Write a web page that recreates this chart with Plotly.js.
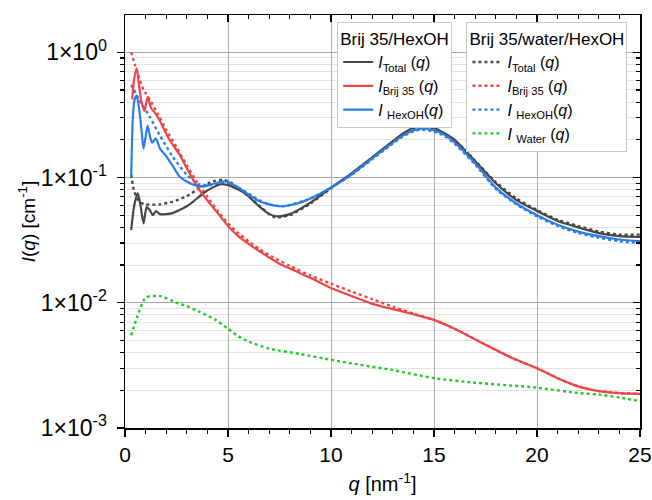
<!DOCTYPE html>
<html>
<head>
<meta charset="utf-8">
<script src="https://cdn.plot.ly/plotly-3.0.1.min.js"></script>
<style>html,body{margin:0;padding:0;background:#fff;}#chart{width:652px;height:500px;}</style>
</head>
<body>
<div id="chart"></div>
<script>
// ---- Brij 35/HexOH (solid) ----
const qTotalA = [0.3,0.45,0.62,0.75,0.9,1.05,1.2,1.35,1.5,1.7,2.0,2.3,2.65,3.0,3.3,3.9,4.6,5.0,5.5,5.9,6.5,7.0,7.4,8.0,9.0,10,11,12,13,13.5,14,14.4,15,16,17,18,19,20,21,22,23,24,25];
const iTotalA = [0.038,0.06,0.075,0.06,0.043,0.058,0.055,0.05,0.054,0.051,0.051,0.052,0.055,0.059,0.064,0.077,0.088,0.087,0.08,0.073,0.059,0.051,0.049,0.051,0.063,0.083,0.108,0.145,0.195,0.225,0.25,0.258,0.25,0.2,0.135,0.09,0.066,0.054,0.045,0.04,0.036,0.034,0.0335];

const qBrijA = [0.35,0.45,0.57,0.68,0.8,0.95,1.1,1.27,1.45,1.67,2.16,2.65,3.13,3.6,4.1,4.5,5,5.5,6,6.5,7,7.5,8,8.5,9,10,11,12,13,14,15,16,17,18,19,20,21,22,23,24,25];
const iBrijA = [0.42,0.62,0.745,0.55,0.4,0.34,0.44,0.357,0.33,0.288,0.2,0.152,0.108,0.08,0.0625,0.052,0.041,0.034,0.0295,0.026,0.023,0.0205,0.0188,0.0172,0.0158,0.0131,0.0113,0.0098,0.0089,0.0081,0.0073,0.0062,0.0051,0.0042,0.0035,0.003,0.0025,0.00215,0.00197,0.0019,0.00187];

const qHexA = [0.3,0.38,0.47,0.57,0.68,0.8,0.9,1.0,1.1,1.22,1.32,1.5,1.7,2.0,2.3,2.65,3.0,3.3,3.8,4.4,4.9,5.5,6.0,6.5,7.0,7.5,8.0,8.5,9,10,11,12,13,13.5,14,14.4,15,15.5,16,17,18,19,20,21,22,23,24,25];
const iHexA = [0.1,0.3,0.42,0.45,0.36,0.24,0.17,0.21,0.26,0.21,0.19,0.205,0.17,0.148,0.125,0.102,0.093,0.088,0.085,0.09,0.093,0.083,0.073,0.065,0.061,0.059,0.06,0.063,0.068,0.083,0.106,0.142,0.19,0.217,0.238,0.246,0.238,0.22,0.19,0.13,0.083,0.062,0.05,0.042,0.037,0.034,0.032,0.031];

// ---- Brij 35/water/HexOH (dotted) ----
const qTotalB = [0.3,0.45,0.7,1.0,1.7,2.3,3.0,3.6,4.26,4.75,5.2,6.0,6.5,7.0,7.3,8.0,9.0,10,11,12,13,13.5,14,14.4,15,16,17,18,19,20,21,22,23,24,25];
const iTotalB = [0.105,0.077,0.064,0.061,0.061,0.064,0.071,0.082,0.093,0.096,0.09,0.071,0.06,0.051,0.048,0.05,0.062,0.082,0.107,0.144,0.193,0.222,0.245,0.252,0.245,0.198,0.136,0.092,0.068,0.055,0.046,0.041,0.037,0.035,0.035];

const qBrijB = [0.3,0.5,0.7,0.9,1.2,1.6,2.0,2.5,3.0,3.5,4.0,4.5,5.0,5.5,6,6.5,7,8,9,10,11,12,13,14,15,16,17,18,19,20,21,22,23,24,25];
const iBrijB = [1.0,0.78,0.62,0.5,0.42,0.32,0.24,0.175,0.125,0.092,0.07,0.054,0.043,0.036,0.031,0.027,0.024,0.0197,0.0165,0.0142,0.0123,0.0107,0.0093,0.0082,0.0073,0.0062,0.0051,0.0042,0.0035,0.003,0.0025,0.00215,0.00197,0.0019,0.00187];

const qHexB = [0.3,0.7,1.2,1.67,2.3,3.0,3.6,4.2,4.75,5.4,6.5,7.0,7.7,9,10,11,12,13,13.5,14,14.4,15,15.5,16,17,18,19,20,21,22,23,24,25];
const iHexB = [0.55,0.415,0.306,0.22,0.148,0.105,0.088,0.087,0.09,0.085,0.066,0.061,0.059,0.068,0.083,0.105,0.14,0.187,0.213,0.234,0.241,0.233,0.215,0.186,0.127,0.081,0.061,0.049,0.041,0.036,0.033,0.031,0.030];

const qWaterB = [0.3,0.6,1.0,1.7,2.5,3.0,3.6,4.4,5.0,5.5,6.0,7.0,8.5,10,11.4,13,15,17,20,22,23,24,25];
const iWaterB = [0.0055,0.0078,0.011,0.0113,0.01,0.0094,0.0085,0.0073,0.0062,0.0054,0.0049,0.0043,0.0039,0.0035,0.0032,0.0029,0.0025,0.0023,0.0021,0.0019,0.00185,0.00175,0.00164];

// ---- axis ticks / labels ----
const yTickVals = [0.001, 0.01, 0.1, 1];
const yTickText = ['1×10<sup>-3</sup>', '1×10<sup>-2</sup>', '1×10<sup>-1</sup>', '1×10<sup>0</sup>'];
const xTickVals = [0, 5, 10, 15, 20, 25];
const legendTitleA = 'Brij 35/HexOH';
const legendTitleB = 'Brij 35/water/HexOH';
const nameTotal = '<i>I</i><sub>Total</sub> (<i>q</i>)';
const nameBrij = '<i>I</i><sub>Brij 35</sub> (<i>q</i>)';
const nameHex = '<i>I</i> <sub>HexOH</sub>(<i>q</i>)';
const nameWater = '<i>I</i> <sub>Water</sub> (<i>q</i>)';

const cGray = '#474747', cRed = '#f04545', cBlue = '#2a7de6', cGreen = '#22cc22';

// minor log tick positions (axis decoration)
const yMinor = [];
for (let e = -3; e <= 0; e++) for (let m = 2; m <= 9; m++) yMinor.push(m * Math.pow(10, e));

function tr(x, y, name, color, dash, legend) {
  return {x: x, y: y, name: name, type: 'scatter', mode: 'lines', legend: legend,
    line: {color: color, width: dash === 'solid' ? 2.2 : 2.4, dash: dash, shape: 'spline', smoothing: 0.6}};
}
const data = [
  tr(qTotalB, iTotalB, nameTotal, cGray, 'dot', 'legend2'),
  tr(qBrijB, iBrijB, nameBrij, cRed, 'dot', 'legend2'),
  tr(qHexB, iHexB, nameHex, cBlue, 'dot', 'legend2'),
  tr(qWaterB, iWaterB, nameWater, cGreen, 'dot', 'legend2'),
  tr(qTotalA, iTotalA, nameTotal, cGray, 'solid', 'legend'),
  tr(qBrijA, iBrijA, nameBrij, cRed, 'solid', 'legend'),
  tr(qHexA, iHexA, nameHex, cBlue, 'solid', 'legend'),
  {x: [], y: [], xaxis: 'x2', yaxis: 'y2', showlegend: false, type: 'scatter', mode: 'lines'}
];
const font = 'Liberation Sans, Arial, sans-serif';
const yRange = [-3, 0.2975];
const layout = {
  width: 652, height: 500,
  margin: {l: 125, r: 12, t: 15, b: 72},
  paper_bgcolor: '#fff', plot_bgcolor: '#fff',
  font: {family: font, size: 17, color: '#000'},
  showlegend: true,
  xaxis: {
    range: [0, 25], tickvals: xTickVals, ticks: 'outside', ticklen: 7, tickwidth: 1.3, tickcolor: '#000',
    showline: true, linecolor: '#000', linewidth: 1.5, showgrid: true, gridcolor: '#b0b0b0', gridwidth: 1,
    zeroline: false, tickfont: {size: 21},
    minor: {dtick: 1, ticks: 'outside', ticklen: 4, tickwidth: 1.3, tickcolor: '#000', showgrid: false},
    title: {text: '<i>q</i> [nm<sup>-1</sup>]', font: {size: 20}, standoff: 12}
  },
  yaxis: {
    type: 'log', range: yRange, tickvals: yTickVals, ticktext: yTickText, ticks: 'outside', ticklen: 7, tickwidth: 1.3, tickcolor: '#000',
    showline: true, linecolor: '#000', linewidth: 1.5, showgrid: true, gridcolor: '#a8a8a8', gridwidth: 1,
    zeroline: false, tickfont: {size: 23}, ticklabelstandoff: 5,
    minor: {tickvals: yMinor, ticks: 'outside', ticklen: 4, tickwidth: 1.1, tickcolor: '#000', showgrid: true, gridcolor: '#e3e3e3', gridwidth: 1},
    title: {text: '<i>I</i>(<i>q</i>) [cm<sup>-1</sup>]', font: {size: 19}, standoff: 0}
  },
  xaxis2: {
    overlaying: 'x', side: 'top', anchor: 'y', range: [0, 25], tickvals: xTickVals, showticklabels: false,
    ticks: 'inside', ticklen: 7, tickwidth: 1.3, tickcolor: '#000', showline: true, linecolor: '#000', linewidth: 1.5,
    showgrid: false, zeroline: false,
    minor: {dtick: 1, ticks: 'inside', ticklen: 4, tickwidth: 1.3, tickcolor: '#000', showgrid: false}
  },
  yaxis2: {
    overlaying: 'y', side: 'right', anchor: 'x', type: 'log', range: yRange, tickvals: yTickVals, showticklabels: false,
    ticks: 'inside', ticklen: 7, tickwidth: 1.3, tickcolor: '#000', showline: true, linecolor: '#000', linewidth: 1.5,
    showgrid: false, zeroline: false,
    minor: {tickvals: yMinor, ticks: 'inside', ticklen: 4, tickwidth: 1.1, tickcolor: '#000', showgrid: false}
  },
  legend: {
    x: 0.412, y: 0.983, xanchor: 'left', yanchor: 'top', bgcolor: '#fff', bordercolor: '#c8c8c8', borderwidth: 1,
    font: {family: font, size: 16}, title: {text: legendTitleA, font: {size: 17}}, tracegroupgap: 0, traceorder: 'normal'
  },
  legend2: {
    x: 0.663, y: 0.983, xanchor: 'left', yanchor: 'top', bgcolor: '#fff', bordercolor: '#c8c8c8', borderwidth: 1,
    font: {family: font, size: 16}, title: {text: legendTitleB, font: {size: 17}}, tracegroupgap: 0, traceorder: 'normal'
  }
};
Plotly.newPlot('chart', data, layout, {displayModeBar: false, staticPlot: true});
</script>
</body>
</html>
